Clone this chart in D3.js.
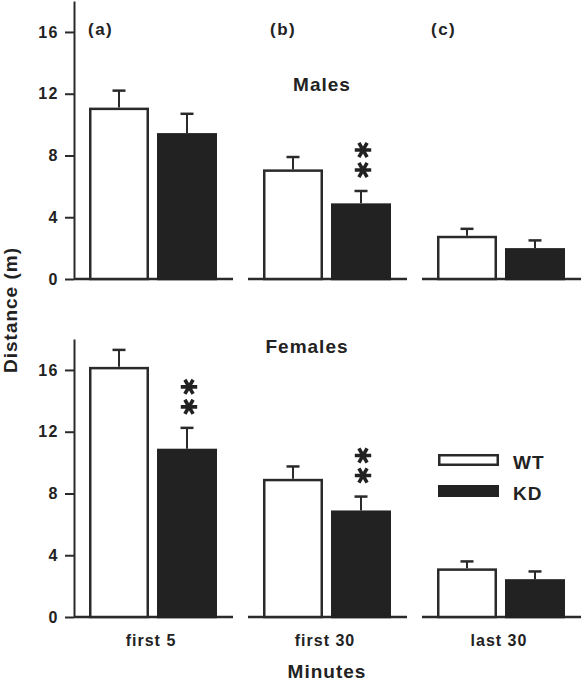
<!DOCTYPE html>
<html>
<head>
<meta charset="utf-8">
<script src="https://cdn.jsdelivr.net/npm/d3@7"></script>
<style>
  html, body { margin: 0; padding: 0; background: #fff; }
  text { font-family: "Liberation Sans", Arial, Helvetica, sans-serif; fill: #222; }
</style>
</head>
<body>
<svg id="chart" width="581" height="681"></svg>
<script>
// ---- data ----
const categories = ["first 5", "first 30", "last 30"];
const panelLabels = ["(a)", "(b)", "(c)"];
const seriesNames = ["WT", "KD"];
const rowTitles = ["Males", "Females"];
// Males
const malesWT = [11.1, 7.1, 2.8];
const malesWTerr = [1.1, 0.8, 0.45];
const malesKD = [9.45, 4.9, 2.0];
const malesKDerr = [1.25, 0.8, 0.5];
const malesSig = [false, true, false];
// Females
const femalesWT = [16.2, 8.95, 3.15];
const femalesWTerr = [1.1, 0.8, 0.45];
const femalesKD = [10.9, 6.9, 2.45];
const femalesKDerr = [1.35, 0.9, 0.5];
const femalesSig = [true, true, false];
const yTicks = [0, 4, 8, 12, 16];
const yMax = 18;

const rows = [
  { title: rowTitles[0], wt: malesWT, wtErr: malesWTerr, kd: malesKD, kdErr: malesKDerr, sig: malesSig },
  { title: rowTitles[1], wt: femalesWT, wtErr: femalesWTerr, kd: femalesKD, kdErr: femalesKDerr, sig: femalesSig }
];

const svg = d3.select("#chart");
const ink = "#2a2a2a";

const x = d3.scaleBand().domain(categories).range([66, 588]).padding(0);
const xInner = d3.scaleBand().domain(seriesNames).range([0, 128]).paddingInner(2 - 128 / 68).paddingOuter(0);
const innerOffset = (x.bandwidth() - 128) / 2;

const rowLayout = [
  { y0: 279, title: { x: 322, y: 91 } },
  { y0: 617, title: { x: 307, y: 353 } }
];
const pxPerUnit = 15.44;

rows.forEach((row, ri) => {
  const lay = rowLayout[ri];
  const y = d3.scaleLinear().domain([0, yMax]).range([lay.y0, lay.y0 - yMax * pxPerUnit]);
  const g = svg.append("g");

  // y axis
  const axis = d3.axisLeft(y).tickValues(yTicks).tickSize(9).tickSizeOuter(0).tickPadding(6);
  const ag = g.append("g").attr("transform", "translate(74,0)").call(axis);
  ag.select(".domain").attr("stroke", ink).attr("stroke-width", 2);
  ag.selectAll(".tick line").attr("stroke", ink).attr("stroke-width", 2);
  ag.selectAll(".tick text")
    .attr("fill", "#222")
    .style("font-size", "16px").style("font-weight", "bold").style("letter-spacing", "1.5px")
    .style("font-family", "'Liberation Sans', Arial, sans-serif");

  // baselines per group
  categories.forEach((c, ci) => {
    const cx = x(c) + x.bandwidth() / 2;
    const x1 = ci === 0 ? 74 : cx - 79;
    g.append("line")
      .attr("x1", x1).attr("x2", cx + 80)
      .attr("y1", y(0)).attr("y2", y(0))
      .attr("stroke", ink).attr("stroke-width", 2.5);
  });

  // bars
  const data = [];
  categories.forEach((c, ci) => {
    data.push({ c, s: "WT", v: row.wt[ci], e: row.wtErr[ci], sig: false });
    data.push({ c, s: "KD", v: row.kd[ci], e: row.kdErr[ci], sig: row.sig[ci] });
  });
  const bx = d => x(d.c) + innerOffset + xInner(d.s);

  // error bars (upward only)
  const eg = g.selectAll("g.err").data(data).enter().append("g");
  eg.append("line")
    .attr("x1", d => bx(d) + xInner.bandwidth() / 2).attr("x2", d => bx(d) + xInner.bandwidth() / 2)
    .attr("y1", d => y(d.v)).attr("y2", d => y(d.v + d.e))
    .attr("stroke", ink).attr("stroke-width", 2);
  eg.append("line")
    .attr("x1", d => bx(d) + xInner.bandwidth() / 2 - 6.5).attr("x2", d => bx(d) + xInner.bandwidth() / 2 + 6.5)
    .attr("y1", d => y(d.v + d.e)).attr("y2", d => y(d.v + d.e))
    .attr("stroke", ink).attr("stroke-width", 2.5);

  g.selectAll("rect.bar").data(data).enter().append("rect")
    .attr("x", d => bx(d) + 1.25)
    .attr("width", xInner.bandwidth() - 2.5)
    .attr("y", d => y(d.v) + 1.25)
    .attr("height", d => y(0) - y(d.v) - 1.25)
    .attr("fill", d => d.s === "WT" ? "#fff" : "#222")
    .attr("stroke", d => d.s === "WT" ? ink : "#222")
    .attr("stroke-width", 2.5);

  // significance asterisks
  const star = d3.symbol().type(d3.symbolAsterisk).size(190);
  data.filter(d => d.sig).forEach(d => {
    const cx = bx(d) + xInner.bandwidth() / 2 + 2;
    const top = y(d.v + d.e);
    [top - 21, top - 41].forEach(cy => {
      g.append("path")
        .attr("d", star())
        .attr("transform", `translate(${cx},${cy}) rotate(90)`)
        .attr("fill", "none").attr("stroke", "#222").attr("stroke-width", 3.6);
    });
  });

  // row title
  g.append("text")
    .attr("x", lay.title.x).attr("y", lay.title.y)
    .attr("text-anchor", "middle")
    .style("font-size", "19px").style("font-weight", "bold").style("letter-spacing", "1px")
    .text(row.title);
});

// panel labels
const panelX = [88, 270, 431];
panelLabels.forEach((p, i) => {
  svg.append("text").attr("x", panelX[i]).attr("y", 35)
    .style("font-size", "17px").style("font-weight", "bold").style("letter-spacing", "1.5px")
    .text(p);
});

// x category labels
categories.forEach(c => {
  svg.append("text")
    .attr("x", x(c) + x.bandwidth() / 2 - 2).attr("y", 646)
    .attr("text-anchor", "middle")
    .style("font-size", "16px").style("font-weight", "bold").style("letter-spacing", "1px")
    .text(c);
});

// axis titles
svg.append("text")
  .attr("x", 327).attr("y", 678)
  .attr("text-anchor", "middle")
  .style("font-size", "19px").style("font-weight", "bold").style("letter-spacing", "1px")
  .text("Minutes");

svg.append("text")
  .attr("transform", "translate(17,310) rotate(-90)")
  .attr("text-anchor", "middle")
  .style("font-size", "19px").style("font-weight", "bold").style("letter-spacing", "1px")
  .text("Distance (m)");

// legend
const legend = svg.append("g");
const legendItems = [
  { name: seriesNames[0], y: 454, fill: "#fff", stroke: ink },
  { name: seriesNames[1], y: 485, fill: "#222", stroke: "#222" }
];
legendItems.forEach(it => {
  legend.append("rect")
    .attr("x", 439.25).attr("y", it.y + 1.25)
    .attr("width", 58.5).attr("height", 9.5)
    .attr("fill", it.fill).attr("stroke", it.stroke).attr("stroke-width", 2.5);
  legend.append("text")
    .attr("x", 513).attr("y", it.y + 14.5)
    .style("font-size", "19px").style("font-weight", "bold").style("letter-spacing", "1px")
    .text(it.name);
});
</script>
</body>
</html>
